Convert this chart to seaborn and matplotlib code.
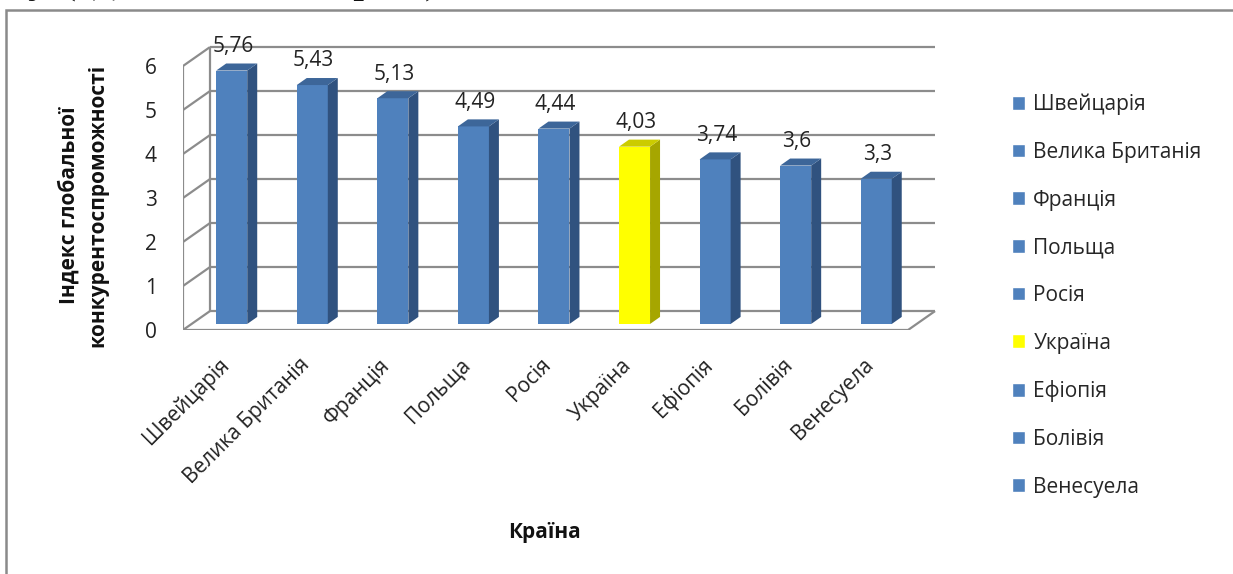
import numpy as np
import pandas as pd
import matplotlib
matplotlib.use("Agg")
import matplotlib.pyplot as plt
from matplotlib.patches import Polygon, Rectangle, Patch
import seaborn as sns

countries = ["Швейцарія", "Велика Британія", "Франція", "Польща", "Росія",
             "Україна", "Ефіопія", "Болівія", "Венесуела"]
index_values = [5.76, 5.43, 5.13, 4.49, 4.44, 4.03, 3.74, 3.6, 3.3]
y_ticks = [0, 1, 2, 3, 4, 5, 6]
x_title = "Країна"
y_title = "Індекс глобальної\nконкурентоспроможності"
caption = "у (здійснено автором)."

highlight = "Україна"
BLUE = ("#4F81BD", "#3D6699", "#30527F")     # front, top, side
YELLOW = ("#FFFF00", "#CCCC00", "#A6A600")
GRID = "#8C8C8C"
FS = 15

# fake 3d offsets, in data units (x = category, y = index)
WALL_DX, WALL_DY = 0.335, 0.43
BAR_DX, BAR_DY = 0.105, 0.137
FACE_DX, FACE_DY = 0.124, 0.16
BAR_W = 0.385
LABEL_DX = 0.03

df = pd.DataFrame({"country": countries, "value": index_values})
shades = {c: (YELLOW if c == highlight else BLUE) for c in countries}

sns.set_style("white")
plt.rcParams["font.family"] = ["Open Sans", "DejaVu Sans"]

fig = plt.figure(figsize=(12.33, 5.74), dpi=100)
ax = fig.add_axes([0.1484, 0.4251, 0.6142, 0.5059])
ax.patch.set_visible(False)

sns.barplot(data=df, x="country", y="value", hue="country",
            palette={c: shades[c][0] for c in countries}, saturation=1,
            width=BAR_W, linewidth=0, zorder=3, legend=False, ax=ax)

n = len(countries)
x0, x1 = -0.5, n - 0.5
top = max(y_ticks)

# walls and floor
line_kw = dict(color=GRID, lw=1.6, zorder=1, solid_capstyle="butt")
for v in y_ticks:
    ax.plot([x0 + WALL_DX, x1 + WALL_DX], [v + WALL_DY] * 2, **line_kw)
    ax.plot([x0, x0 + WALL_DX], [v, v + WALL_DY], **line_kw)
ax.plot([x0, x0], [0, top], **line_kw)
ax.plot([x0 + WALL_DX] * 2, [WALL_DY, top + WALL_DY], **line_kw)
ax.plot([x0, x1, x1 + WALL_DX], [0, 0, WALL_DY], **line_kw)

# shift bars into their depth plane and add side / top faces
bars = list(ax.patches)
for p in bars:
    i = int(round(p.get_x() + p.get_width() / 2))
    front, lid, side = shades[countries[i]]
    p.set_x(p.get_x() + BAR_DX)
    p.set_y(BAR_DY)
    bx, by, w, h = p.get_x(), p.get_y(), p.get_width(), p.get_height()
    ax.add_patch(Polygon([(bx + w, by), (bx + w + FACE_DX, by + FACE_DY),
                          (bx + w + FACE_DX, by + h + FACE_DY), (bx + w, by + h)],
                         closed=True, facecolor=side, edgecolor="none", zorder=3))
    ax.add_patch(Polygon([(bx, by + h), (bx + FACE_DX, by + h + FACE_DY),
                          (bx + w + FACE_DX, by + h + FACE_DY), (bx + w, by + h)],
                         closed=True, facecolor=lid, edgecolor="none", zorder=3))
    label = f"{index_values[i]:g}".replace(".", ",")
    ax.annotate(label, (bx + w / 2, by + h), xytext=(1, 13.5),
                textcoords="offset points", ha="center", va="baseline",
                fontsize=FS, color="#222222", annotation_clip=False)

ax.set_xlim(-0.5, 8.9)
ax.set_ylim(0, 6.6)
sns.despine(ax=ax, left=True, bottom=True)

ax.set_xticks(np.arange(n) + LABEL_DX, countries)
ax.set_yticks(y_ticks)
ax.tick_params(axis="x", length=0, pad=23, labelsize=FS, colors="#222222")
ax.tick_params(axis="y", length=0, pad=19, labelsize=FS, colors="#222222")
plt.setp(ax.get_xticklabels(), rotation=45, ha="right", va="center",
         rotation_mode="anchor")

ax.set_xlabel(x_title, fontsize=FS, fontweight="bold", color="#111111")
ax.xaxis.set_label_coords(0.478, -0.661)
ax.set_ylabel(y_title, fontsize=FS, fontweight="bold", color="#111111",
              linespacing=1.45)
ax.yaxis.set_label_coords(-0.099, 0.43)

handles = [Patch(facecolor=shades[c][0], label=c) for c in countries]
ax.legend(handles=handles, loc="center left", bbox_to_anchor=(0.8208, 0.485),
          bbox_transform=fig.transFigure, frameon=False, fontsize=FS,
          handlelength=0.62, handleheight=0.62, handletextpad=0.4,
          labelspacing=1.28, borderpad=0, borderaxespad=0)

# document frame and the cut-off caption line above it
fig.add_artist(Rectangle((6 / 1233, -0.1), 1.2, 1.0826, transform=fig.transFigure,
                         fill=False, edgecolor="#8A8A8A", lw=1.8))
fig.text(28 / 1233, 1 + 7 / 574, caption, family="Liberation Serif",
         fontsize=32, va="baseline", color="#111111")

fig.savefig("out.png", dpi=100)
